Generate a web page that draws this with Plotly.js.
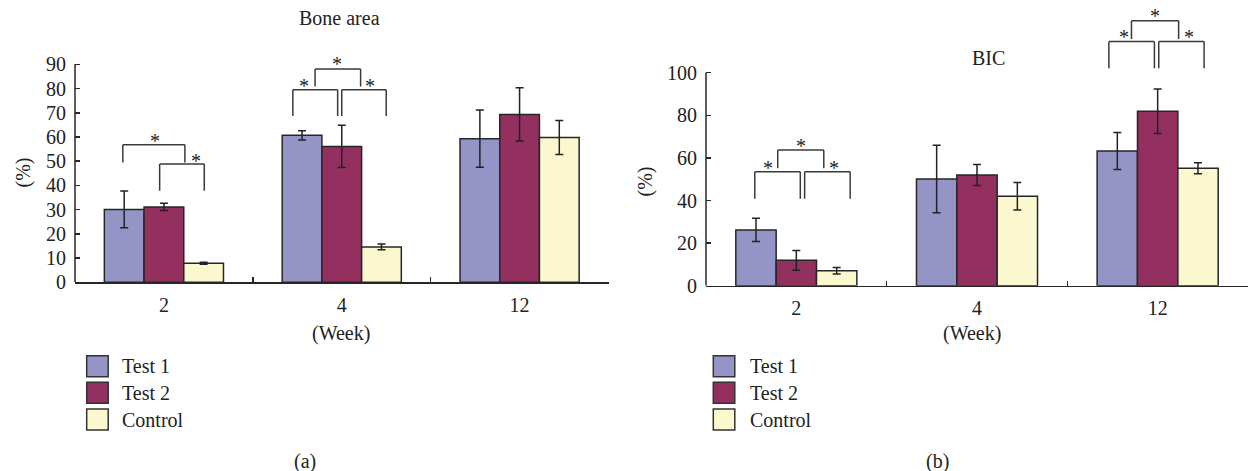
<!DOCTYPE html>
<html>
<head>
<meta charset="utf-8">
<script src="https://cdn.plot.ly/plotly-3.0.1.min.js"></script>
<style>html,body{margin:0;padding:0;background:#fff;}#chart{width:1248px;height:471px;}</style>
</head>
<body>
<div id="chart"></div>
<script>
// ---- Data ----
const weeks = ['2', '4', '12'];
const seriesNames = ['Test 1', 'Test 2', 'Control'];

// Bone area (%)
const boneTest1 = [30.1, 60.7, 59.3];
const boneTest1Err = [7.6, 1.9, 11.8];
const boneTest2 = [31.1, 56.1, 69.3];
const boneTest2Err = [1.5, 8.7, 11.0];
const boneControl = [7.9, 14.6, 59.8];
const boneControlErr = [0.4, 1.2, 7.0];

// BIC (%)
const bicTest1 = [26.2, 50.1, 63.2];
const bicTest1Err = [5.5, 15.8, 8.7];
const bicTest2 = [11.9, 52.0, 81.9];
const bicTest2Err = [4.6, 4.9, 10.5];
const bicControl = [7.0, 42.0, 55.1];
const bicControlErr = [1.5, 6.5, 2.6];

const boneTicks = [0, 10, 20, 30, 40, 50, 60, 70, 80, 90];
const bicTicks = [0, 20, 40, 60, 80, 100];

// significance brackets: [category index, left offset, right offset, top, leg bottom, star offset, star y]
const boneBrackets = [
  [0, -0.231, 0.118, 56.8, 49.5, -0.052, 60.1],
  [0, -0.024, 0.227, 48.8, 37.8, 0.182, 51.7],
  [1, -0.275, -0.023, 79.5, 68.7, -0.211, 82.9],
  [1, 0.0, 0.25, 79.5, 68.7, 0.158, 82.9],
  [1, -0.15, 0.106, 88.1, 80.8, -0.025, 91.9]
];
const bicBrackets = [
  [0, -0.23, 0.022, 53.5, 40.8, -0.157, 57.0],
  [0, 0.046, 0.298, 53.5, 40.8, 0.207, 57.0],
  [0, -0.103, 0.152, 63.7, 55.1, 0.028, 67.6],
  [2, -0.27, -0.018, 114.6, 102.1, -0.189, 118.5],
  [2, 0.006, 0.257, 114.6, 102.1, 0.173, 118.5],
  [2, -0.145, 0.116, 124.4, 115.8, -0.014, 128.4]
];

// ---- Styling ----
const W = 1248, H = 471;
const colors = ['#9494c6', '#93305f', '#fbf8cf'];
const outline = '#262626';
const FONT = 'Liberation Serif';
const px = x => x / W;
const py = y => 1 - y / H;

function bars(vals, errs, i, xa, ya) {
  return {
    type: 'bar', x: weeks, y: vals, name: seriesNames[i], xaxis: xa, yaxis: ya,
    showlegend: false,
    marker: {color: colors[i], line: {color: outline, width: 1.5}},
    error_y: {type: 'data', array: errs, visible: true, color: '#222', thickness: 1.5, width: 4},
    hoverinfo: 'skip'
  };
}

const data = [
  bars(boneTest1, boneTest1Err, 0, 'x', 'y'),
  bars(boneTest2, boneTest2Err, 1, 'x', 'y'),
  bars(boneControl, boneControlErr, 2, 'x', 'y'),
  bars(bicTest1, bicTest1Err, 0, 'x2', 'y2'),
  bars(bicTest2, bicTest2Err, 1, 'x2', 'y2'),
  bars(bicControl, bicControlErr, 2, 'x2', 'y2')
];

const shapes = [];
const annotations = [];

function addBrackets(list, xr, yr) {
  list.forEach(b => {
    const [c, l, r, top, bot, sx, sy] = b;
    const line = {color: '#3a3a3a', width: 1.5};
    shapes.push({type: 'line', xref: xr, yref: yr, x0: c + l, x1: c + r, y0: top, y1: top, line});
    shapes.push({type: 'line', xref: xr, yref: yr, x0: c + l, x1: c + l, y0: top, y1: bot, line});
    shapes.push({type: 'line', xref: xr, yref: yr, x0: c + r, x1: c + r, y0: top, y1: bot, line});
    annotations.push({xref: xr, yref: yr, x: c + sx, y: sy, text: '*', showarrow: false,
      xanchor: 'center', yanchor: 'middle', yshift: -4, font: {family: FONT, size: 20, color: '#222'}});
  });
}
addBrackets(boneBrackets, 'x', 'y');
addBrackets(bicBrackets, 'x2', 'y2');

// y axis lines (only up to the last tick)
shapes.push({type: 'line', xref: 'paper', yref: 'y', x0: px(75), x1: px(75), y0: 0, y1: 90, line: {color: outline, width: 1.5}});
shapes.push({type: 'line', xref: 'paper', yref: 'y2', x0: px(706), x1: px(706), y0: 0, y1: 100, line: {color: outline, width: 1.5}});

// legends
function addLegend(x0, textX) {
  const tops = [355.7, 382.3, 409];
  seriesNames.forEach((n, i) => {
    shapes.push({type: 'rect', xref: 'paper', yref: 'paper', x0: px(x0), x1: px(x0 + 21.5),
      y0: py(tops[i] + 21), y1: py(tops[i]), fillcolor: colors[i], line: {color: '#333', width: 1.5}});
    annotations.push({xref: 'paper', yref: 'paper', x: px(textX), y: py(tops[i] + 10.5), text: n,
      showarrow: false, xanchor: 'left', yanchor: 'middle', font: {family: FONT, size: 20, color: '#222'}});
  });
}
addLegend(86.7, 120);
addLegend(713.3, 747.5);

function label(text, x, y, opts) {
  annotations.push(Object.assign({xref: 'paper', yref: 'paper', x: px(x), y: py(y), text: text,
    showarrow: false, xanchor: 'center', yanchor: 'middle', font: {family: FONT, size: 20, color: '#222'}}, opts || {}));
}
label('Bone area', 340, 18);
label('BIC', 988, 58);
label('(Week)', 341.3, 333);
label('(Week)', 971.7, 333);
label('(%)', 23, 172.5, {textangle: -90});
label('(%)', 645.8, 181.7, {textangle: -90});
label('(a)', 305, 461.5);
label('(b)', 937.5, 461);

const xaxisBase = {
  type: 'category', range: [-0.5, 2.5], showline: true, linecolor: outline, linewidth: 1.5,
  ticks: 'inside', tickson: 'boundaries', ticklen: 5, tickwidth: 1.5, tickcolor: outline,
  showgrid: false, zeroline: false, fixedrange: true, ticklabelstandoff: 4,
  tickfont: {family: FONT, size: 20, color: '#222'}
};
const yaxisBase = {
  showline: false, ticks: 'inside', ticklen: 5, tickwidth: 1.5, tickcolor: outline,
  showgrid: false, zeroline: false, fixedrange: true, ticklabelstandoff: 8,
  tickfont: {family: FONT, size: 20, color: '#222'}
};

const layout = {
  width: W, height: H,
  margin: {l: 0, r: 0, t: 0, b: 0},
  paper_bgcolor: '#fff', plot_bgcolor: 'rgba(0,0,0,0)',
  barmode: 'group', bargap: 0.33, bargroupgap: 0,
  showlegend: false,
  xaxis: Object.assign({}, xaxisBase, {domain: [px(75), px(608.5)], anchor: 'y'}),
  yaxis: Object.assign({}, yaxisBase, {domain: [py(282.3), py(52.2)], range: [0, 95], tickvals: boneTicks, anchor: 'x'}),
  xaxis2: Object.assign({}, xaxisBase, {domain: [px(706), 1], anchor: 'y2'}),
  yaxis2: Object.assign({}, yaxisBase, {domain: [py(285.7), py(4.54)], range: [0, 132], tickvals: bicTicks, anchor: 'x2'}),
  shapes: shapes,
  annotations: annotations
};

Plotly.newPlot('chart', data, layout, {displayModeBar: false, staticPlot: true});
</script>
</body>
</html>
